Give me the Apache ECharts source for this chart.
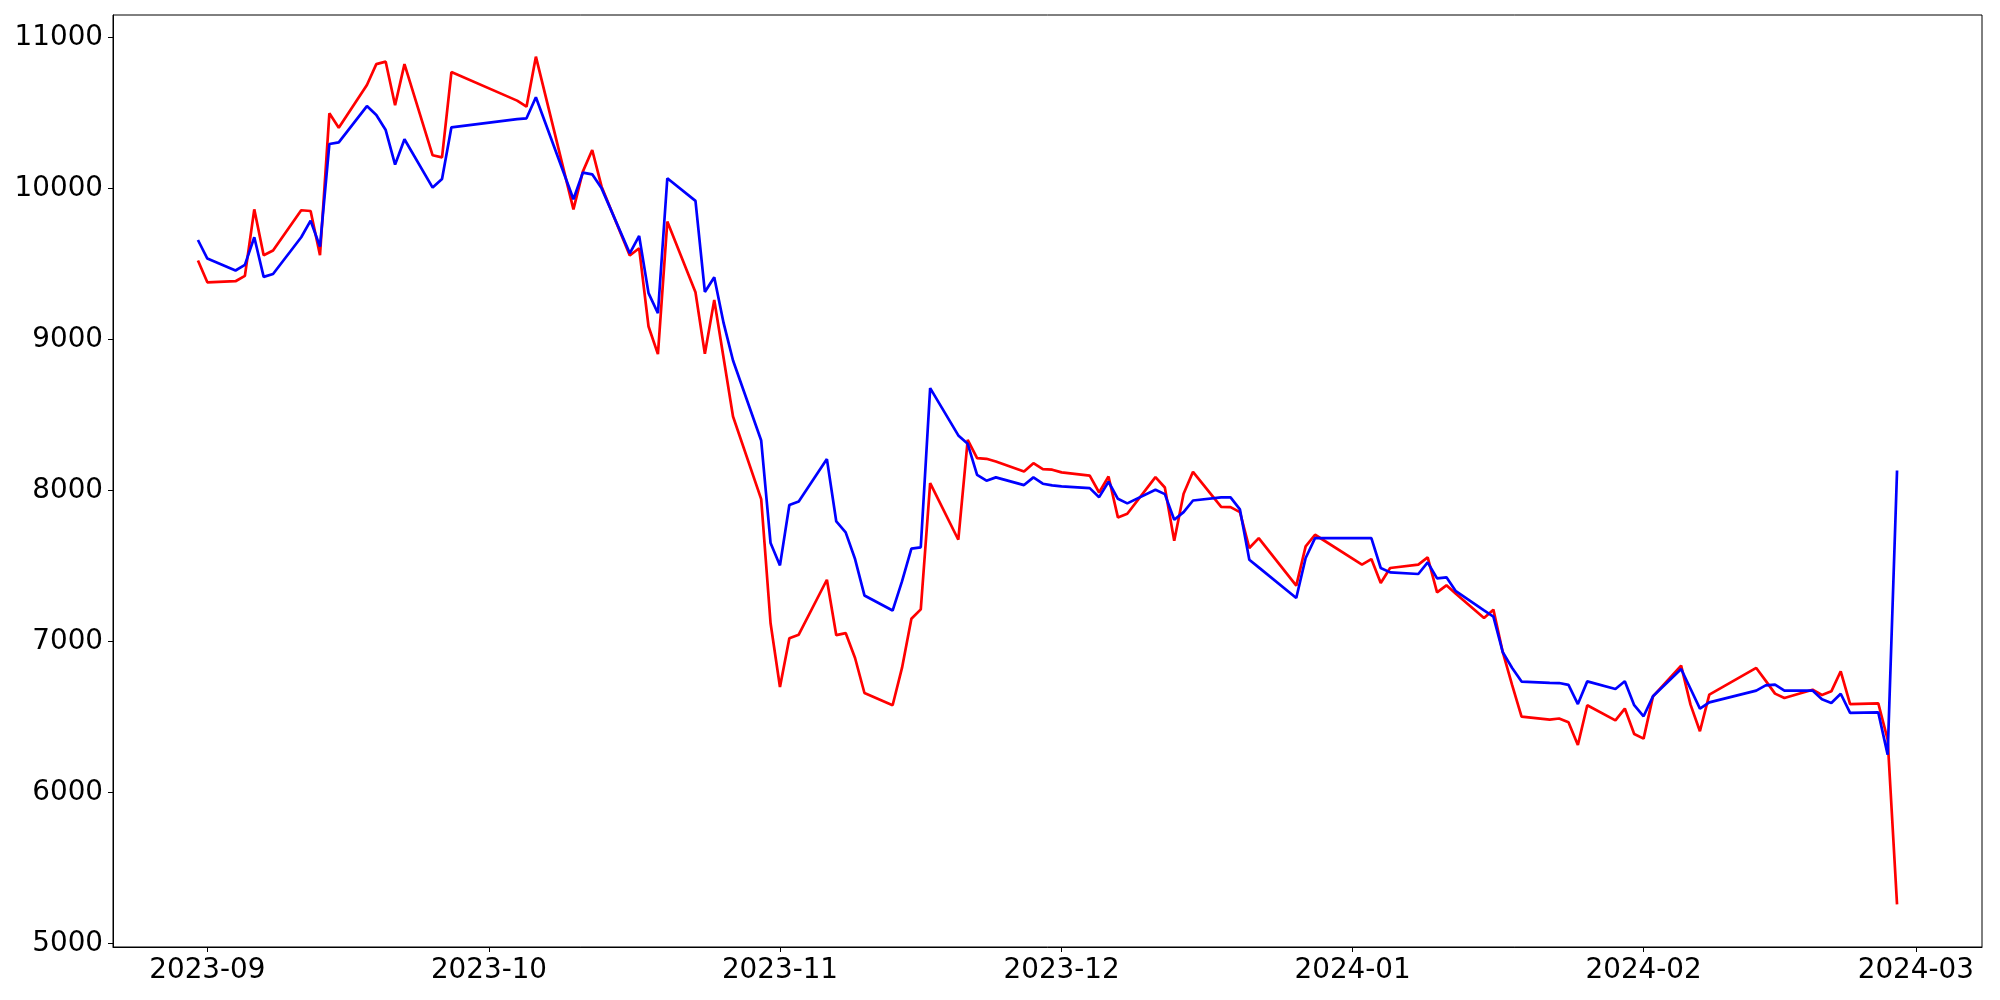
<!DOCTYPE html>
<html>
<head>
<meta charset="utf-8">
<script src="https://cdn.jsdelivr.net/npm/echarts@6/dist/echarts.min.js"></script>
<style>
html,body{margin:0;padding:0;background:#fff;}
#chart{width:2000px;height:1000px;}
</style>
</head>
<body>
<div id="chart"></div>
<script>
const dates = [
'2023-08-31','2023-09-01','2023-09-04','2023-09-05','2023-09-06','2023-09-07','2023-09-08',
'2023-09-11','2023-09-12','2023-09-13','2023-09-14','2023-09-15',
'2023-09-18','2023-09-19','2023-09-20','2023-09-21','2023-09-22',
'2023-09-25','2023-09-26','2023-09-27',
'2023-10-04','2023-10-05','2023-10-06',
'2023-10-10','2023-10-11','2023-10-12','2023-10-13',
'2023-10-16','2023-10-17','2023-10-18','2023-10-19','2023-10-20',
'2023-10-23','2023-10-24','2023-10-25','2023-10-26','2023-10-27',
'2023-10-30','2023-10-31','2023-11-01','2023-11-02','2023-11-03',
'2023-11-06','2023-11-07','2023-11-08','2023-11-09','2023-11-10',
'2023-11-13','2023-11-14','2023-11-15','2023-11-16','2023-11-17',
'2023-11-20','2023-11-21','2023-11-22','2023-11-23','2023-11-24',
'2023-11-27','2023-11-28','2023-11-29','2023-11-30','2023-12-01',
'2023-12-04','2023-12-05','2023-12-06','2023-12-07','2023-12-08',
'2023-12-11','2023-12-12','2023-12-13','2023-12-14','2023-12-15',
'2023-12-18','2023-12-19','2023-12-20','2023-12-21','2023-12-22',
'2023-12-26','2023-12-27','2023-12-28',
'2024-01-02','2024-01-03','2024-01-04','2024-01-05',
'2024-01-08','2024-01-09','2024-01-10','2024-01-11','2024-01-12',
'2024-01-15','2024-01-16','2024-01-17','2024-01-18','2024-01-19',
'2024-01-22','2024-01-23','2024-01-24','2024-01-25','2024-01-26',
'2024-01-29','2024-01-30','2024-01-31','2024-02-01','2024-02-02',
'2024-02-05','2024-02-06','2024-02-07','2024-02-08',
'2024-02-13','2024-02-14','2024-02-15','2024-02-16',
'2024-02-19','2024-02-20','2024-02-21','2024-02-22','2024-02-23',
'2024-02-26','2024-02-27','2024-02-28'
];

const redValues = [
9522,9378,9385,9420,9861,9557,9588,
9855,9850,9557,10497,10402,
10684,10823,10839,10550,10823,
10219,10205,10770,
10581,10541,10872,
9861,10111,10254,10011,
9555,9603,9085,8902,9780,
9312,8904,9261,8875,8489,
7942,7120,6698,7021,7044,
7408,7041,7055,6890,6658,
6577,6824,7150,7212,8048,
7673,8335,8214,8209,8191,
8125,8180,8141,8137,8119,
8097,7986,8092,7821,7845,
8088,8019,7666,7977,8123,
7891,7889,7856,7618,7684,
7369,7629,7706,
7508,7545,7386,7486,
7508,7556,7325,7371,7315,
7155,7210,6928,6710,6502,
6482,6489,6465,6314,6577,
6477,6555,6387,6356,6636,
6839,6581,6405,6647,
6824,6740,6654,6625,
6680,6645,6669,6802,6585,
6590,6350,5258
];

const blueValues = [
9658,9535,9456,9493,9676,9414,9433,
9676,9786,9614,10294,10305,
10545,10486,10386,10157,10325,
10005,10062,10404,
10458,10464,10603,
9928,10104,10093,10000,
9570,9685,9306,9173,10067,
9917,9314,9411,9107,8860,
8330,7651,7503,7903,7927,
8207,7794,7722,7545,7304,
7204,7397,7614,7623,8677,
8364,8308,8103,8064,8086,
8035,8086,8044,8033,8026,
8015,7955,8057,7944,7914,
8004,7975,7805,7856,7933,
7953,7953,7874,7541,7490,
7287,7552,7684,
7684,7684,7486,7457,
7446,7523,7417,7424,7332,
7205,7164,6928,6824,6734,
6725,6724,6712,6585,6735,
6685,6736,6577,6504,6636,
6817,6686,6555,6596,
6674,6709,6714,6674,
6674,6616,6592,6653,6526,
6530,6250,8132
];

const xTickLabels = ['2023-09','2023-10','2023-11','2023-12','2024-01','2024-02','2024-03'];
const yTickLabels = [5000,6000,7000,8000,9000,10000,11000];

const toTs = s => { const p = s.split('-').map(Number); return new Date(p[0], p[1]-1, p[2] || 1).getTime(); };
const t0 = toTs(dates[0]), t1 = toTs(dates[dates.length-1]);
const pad = (t1 - t0) * 0.05;

const redData = dates.map((d,i)=>[toTs(d), redValues[i]]);
const blueData = dates.map((d,i)=>[toTs(d), blueValues[i]]);

const chart = echarts.init(document.getElementById('chart'), null, {renderer:'canvas'});
const font = 'DejaVu Sans';
const FS = 27.8;
chart.setOption({
  animation: false,
  backgroundColor: '#ffffff',
  grid: {left:113, right:18, top:15, bottom:53, show:true, borderColor:'#000', borderWidth:1, backgroundColor:'transparent'},
  xAxis: {
    type:'time', min: t0 - pad, max: t1 + pad, splitNumber: 6,
    axisLine:{show:true, lineStyle:{color:'#000', width:1}},
    axisTick:{show:true, length:5, lineStyle:{color:'#000', width:1}},
    splitLine:{show:false},
    axisLabel:{
      color:'#000', fontFamily:font, fontSize:FS, margin:10, hideOverlap:false,
      formatter: function(v){
        const d = new Date(v);
        const s = d.getFullYear() + '-' + String(d.getMonth()+1).padStart(2,'0');
        return (d.getDate()===1 && xTickLabels.indexOf(s)>=0) ? s : '';
      }
    }
  },
  yAxis: {
    type:'value', min:4976, max:11148, scale:true,
    axisLine:{show:true, lineStyle:{color:'#000', width:1}},
    axisTick:{show:true, length:5, customValues: yTickLabels, lineStyle:{color:'#000', width:1}},
    splitLine:{show:false},
    axisLabel:{
      color:'#000', fontFamily:font, fontSize:FS, margin:10,
      customValues: yTickLabels,
      formatter: function(v){ return yTickLabels.indexOf(v)>=0 ? String(v) : ''; }
    }
  },
  series: [
    {type:'line', data:redData, showSymbol:false, symbol:'none', lineStyle:{color:'#ff0000', width:2.7}, itemStyle:{color:'#ff0000'}, z:2},
    {type:'line', data:blueData, showSymbol:false, symbol:'none', lineStyle:{color:'#0000ff', width:2.7}, itemStyle:{color:'#0000ff'}, z:3}
  ]
});
</script>
</body>
</html>
